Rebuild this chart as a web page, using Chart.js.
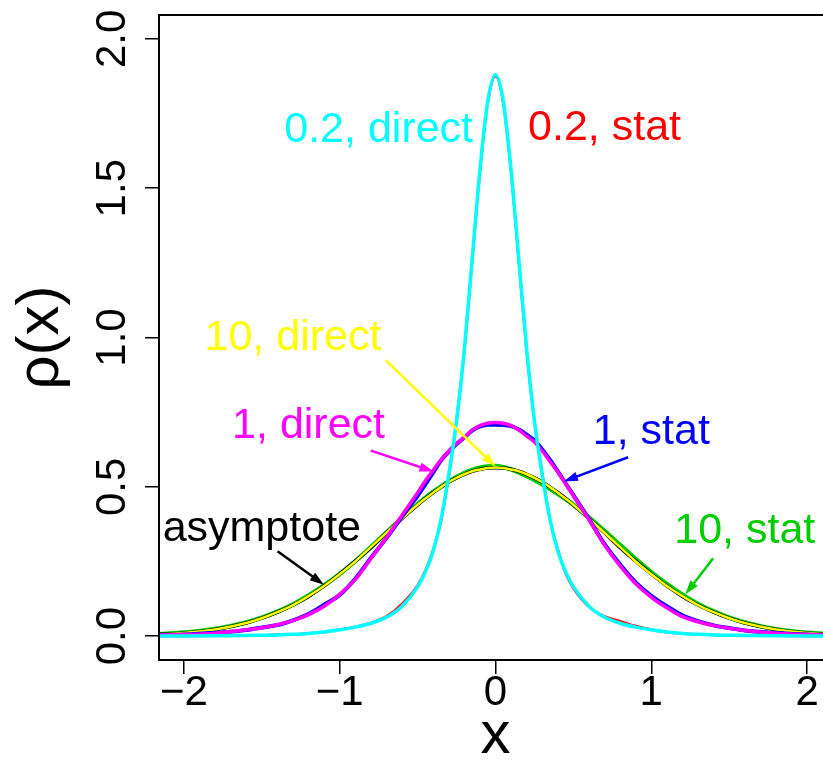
<!DOCTYPE html>
<html>
<head>
<meta charset="utf-8">
<script src="https://cdn.jsdelivr.net/npm/chart.js@4.4.1/dist/chart.umd.min.js"></script>
<style>
html,body{margin:0;padding:0;background:#fff;overflow:hidden;width:823px;height:761px;}
#wrap{position:absolute;left:0;top:0;width:840px;height:761px;}
</style>
</head>
<body>
<div id="wrap"><canvas id="c" width="840" height="761"></canvas></div>
<script>
// ---- data ----
const xValues = [-2.2, -2.0, -1.8, -1.6, -1.5, -1.4, -1.3, -1.2, -1.1, -1.0, -0.9, -0.8, -0.7, -0.6, -0.5, -0.45, -0.4, -0.35, -0.3, -0.25, -0.2, -0.15, -0.1, -0.05,
  0, 0.05, 0.1, 0.15, 0.2, 0.25, 0.3, 0.35, 0.4, 0.45, 0.5, 0.6, 0.7, 0.8, 0.9, 1.0, 1.1, 1.2, 1.3, 1.4, 1.5, 1.6, 1.8, 2.0, 2.2];

const stat02 = [0.0002, 0.0006, 0.001, 0.002, 0.003, 0.005, 0.006, 0.010, 0.013, 0.022, 0.031, 0.045, 0.066, 0.108, 0.17, 0.22, 0.29, 0.385, 0.535, 0.725, 0.955, 1.255, 1.555, 1.785,
  1.875, 1.785, 1.555, 1.25, 0.955, 0.72, 0.545, 0.39, 0.29, 0.21, 0.16, 0.098, 0.066, 0.05, 0.034, 0.022, 0.013, 0.009, 0.006, 0.004, 0.003, 0.002, 0.001, 0.0005, 0.0002];

const direct02 = [0.0003, 0.0005, 0.001, 0.002, 0.003, 0.004, 0.006, 0.009, 0.014, 0.021, 0.03, 0.043, 0.063, 0.10, 0.165, 0.215, 0.285, 0.39, 0.54, 0.72, 0.96, 1.26, 1.56, 1.79,
  1.88, 1.79, 1.56, 1.26, 0.96, 0.72, 0.54, 0.39, 0.285, 0.215, 0.165, 0.10, 0.063, 0.043, 0.03, 0.021, 0.014, 0.009, 0.006, 0.004, 0.003, 0.002, 0.001, 0.0005, 0.0003];

const stat1 = [0.003, 0.005, 0.011, 0.02, 0.029, 0.037, 0.053, 0.074, 0.105, 0.138, 0.192, 0.262, 0.328, 0.40, 0.47, 0.508, 0.548, 0.588, 0.618, 0.643, 0.665, 0.688, 0.702, 0.708,
  0.708, 0.707, 0.703, 0.692, 0.675, 0.655, 0.625, 0.59, 0.552, 0.512, 0.472, 0.392, 0.308, 0.24, 0.18, 0.135, 0.1, 0.07, 0.05, 0.036, 0.027, 0.019, 0.011, 0.005, 0.003];

const direct1 = [0.003, 0.005, 0.01, 0.021, 0.028, 0.038, 0.052, 0.072, 0.10, 0.14, 0.19, 0.26, 0.33, 0.405, 0.48, 0.52, 0.555, 0.59, 0.62, 0.645, 0.665, 0.69, 0.705, 0.713,
  0.715, 0.713, 0.705, 0.69, 0.67, 0.65, 0.62, 0.585, 0.55, 0.51, 0.47, 0.39, 0.305, 0.235, 0.175, 0.13, 0.095, 0.065, 0.048, 0.035, 0.026, 0.019, 0.01, 0.005, 0.003];

const stat10 = [0.005, 0.012, 0.024, 0.046, 0.062, 0.082, 0.106, 0.136, 0.17, 0.208, 0.251, 0.298, 0.347, 0.396, 0.442, 0.463, 0.483, 0.501, 0.518, 0.533, 0.546, 0.557, 0.564, 0.568,
  0.57, 0.566, 0.558, 0.548, 0.536, 0.523, 0.508, 0.493, 0.476, 0.459, 0.44, 0.397, 0.352, 0.305, 0.258, 0.214, 0.174, 0.139, 0.108, 0.083, 0.062, 0.046, 0.023, 0.011, 0.005];

const direct10 = [0.0045, 0.0105, 0.022, 0.044, 0.06, 0.08, 0.104, 0.134, 0.168, 0.207, 0.25, 0.298, 0.346, 0.394, 0.44, 0.461, 0.48, 0.499, 0.516, 0.53, 0.542, 0.552, 0.558, 0.563,
  0.565, 0.563, 0.558, 0.552, 0.542, 0.53, 0.516, 0.499, 0.48, 0.461, 0.44, 0.394, 0.346, 0.298, 0.25, 0.207, 0.168, 0.134, 0.104, 0.08, 0.06, 0.044, 0.022, 0.0105, 0.0045];

const asymptote = [0.005, 0.010, 0.022, 0.044, 0.060, 0.080, 0.104, 0.133, 0.168, 0.208, 0.251, 0.296, 0.346, 0.394, 0.439, 0.461, 0.481, 0.499, 0.516, 0.530, 0.542, 0.552, 0.559, 0.563,
  0.564, 0.563, 0.559, 0.552, 0.542, 0.530, 0.516, 0.499, 0.481, 0.461, 0.439, 0.394, 0.346, 0.296, 0.251, 0.208, 0.168, 0.133, 0.104, 0.080, 0.060, 0.044, 0.022, 0.010, 0.005];

const xTicks = [-2, -1, 0, 1, 2];
const yTicks = [0.0, 0.5, 1.0, 1.5, 2.0];

// ---- styling / drawing ----
const FONT = "'Liberation Sans', Arial, Helvetica, sans-serif";
const C = {red:'#FF0000', cyan:'#00FFFF', blue:'#0000FF', magenta:'#FF00FF', green:'#00CD00', yellow:'#FFFF00', black:'#000000'};

function pts(ys){ return xValues.map((x, i) => ({x: x, y: ys[i]})); }
function ds(label, ys, color, width, order){
  return {label, data: pts(ys), borderColor: color, backgroundColor: color, borderWidth: width,
    pointRadius: 0, fill: false, cubicInterpolationMode: 'monotone', order};
}

const labels = [
  {text:'0.2, direct', x:-0.75, y:1.656, color:C.cyan},
  {text:'0.2, stat',   x:0.70,  y:1.662, color:C.red},
  {text:'10, direct',  x:-1.30, y:0.9595, color:C.yellow},
  {text:'1, direct',   x:-1.20, y:0.664, color:C.magenta},
  {text:'1, stat',     x:1.00,  y:0.644, color:C.blue},
  {text:'10, stat',    x:1.60,  y:0.313, color:C.green},
  {text:'asymptote',   x:-1.50, y:0.318, color:C.black}
];
const arrows = [
  {x0:-0.705, y0:0.924, x1:0.0,   y1:0.568, color:C.yellow},
  {x0:-0.80,  y0:0.621, x1:-0.397,y1:0.551, color:C.magenta},
  {x0:0.851,  y0:0.599, x1:0.438, y1:0.518, color:C.blue},
  {x0:1.397,  y0:0.261, x1:1.218, y1:0.139, color:C.green},
  {x0:-1.399, y0:0.284, x1:-1.101,y1:0.172, color:C.black}
];

const annot = {
  id: 'annot',
  afterDatasetsDraw(chart){
    const {ctx, chartArea: a, scales: {x, y}} = chart;
    ctx.save();
    // arrows
    arrows.forEach(ar => {
      const X0 = x.getPixelForValue(ar.x0), Y0 = y.getPixelForValue(ar.y0);
      const X1 = x.getPixelForValue(ar.x1), Y1 = y.getPixelForValue(ar.y1);
      ctx.strokeStyle = ar.color; ctx.fillStyle = ar.color; ctx.lineWidth = 2.5; ctx.lineCap = 'butt';
      const ang = Math.atan2(Y1 - Y0, X1 - X0), L = 15, w = Math.PI / 10;
      ctx.beginPath(); ctx.moveTo(X0, Y0);
      ctx.lineTo(X1 - 8 * Math.cos(ang), Y1 - 8 * Math.sin(ang)); ctx.stroke();
      ctx.beginPath();
      ctx.moveTo(X1, Y1);
      ctx.lineTo(X1 - L * Math.cos(ang - w), Y1 - L * Math.sin(ang - w));
      ctx.lineTo(X1 - L * Math.cos(ang + w), Y1 - L * Math.sin(ang + w));
      ctx.closePath(); ctx.fill();
    });
    // text labels
    ctx.font = '43px ' + FONT;
    ctx.textAlign = 'center'; ctx.textBaseline = 'alphabetic';
    labels.forEach(l => {
      ctx.fillStyle = l.color;
      ctx.fillText(l.text, x.getPixelForValue(l.x), y.getPixelForValue(l.y));
    });
    // box
    ctx.strokeStyle = '#000'; ctx.lineWidth = 2;
    ctx.strokeRect(a.left, a.top, a.right - a.left, a.bottom - a.top);
    ctx.restore();
  }
};

new Chart(document.getElementById('c'), {
  type: 'line',
  data: {
    datasets: [
      ds('0.2, direct', direct02, C.cyan, 3.5, 1),
      ds('0.2, stat', stat02, C.red, 2.5, 2),
      ds('1, direct', direct1, C.magenta, 3.5, 3),
      ds('1, stat', stat1, C.blue, 4, 4),
      ds('10, direct', direct10, C.yellow, 2.5, 5),
      ds('asymptote', asymptote, C.black, 3.5, 6),
      ds('10, stat', stat10, C.green, 4.5, 7)
    ]
  },
  options: {
    responsive: false,
    animation: false,
    devicePixelRatio: 1,
    events: [],
    layout: {padding: {left: 0, right: 8, top: 15, bottom: 0}},
    plugins: {legend: {display: false}, tooltip: {enabled: false}},
    scales: {
      x: {
        type: 'linear', min: -2.16, max: 2.16,
        afterFit(s){ s.height = 101; s.paddingLeft = 0; s.paddingRight = 0; },
        afterBuildTicks(s){ s.ticks = xTicks.map(v => ({value: v})); },
        ticks: {autoSkip: false, minRotation: 0, maxRotation: 0, includeBounds: false, color: '#000', padding: -2,
          font: {family: FONT, size: 42, lineHeight: 1},
          callback: v => (v < 0 ? '\u2212' : '') + Math.abs(v)},
        grid: {drawOnChartArea: false, drawTicks: true, tickLength: 14, color: '#000', lineWidth: 1.5},
        border: {display: false},
        title: {display: true, text: 'x', color: '#000', font: {family: FONT, size: 60, lineHeight: 1}, padding: {top: 0, bottom: -5}}
      },
      y: {
        type: 'linear', min: -0.08, max: 2.08,
        afterFit(s){ s.width = 159; s.paddingTop = 0; s.paddingBottom = 0; },
        afterBuildTicks(s){ s.ticks = yTicks.map(v => ({value: v})); },
        ticks: {autoSkip: false, minRotation: 90, maxRotation: 90, crossAlign: 'center', includeBounds: false, color: '#000', padding: 2,
          font: {family: FONT, size: 42, lineHeight: 1},
          callback: v => Number(v).toFixed(1)},
        grid: {drawOnChartArea: false, drawTicks: true, tickLength: 14, color: '#000', lineWidth: 1.5},
        border: {display: false},
        title: {display: true, text: '\u03C1(x)', color: '#000', font: {family: FONT, size: 60, lineHeight: 1}, padding: {top: 11, bottom: 0}}
      }
    }
  },
  plugins: [annot]
});
</script>
</body>
</html>
